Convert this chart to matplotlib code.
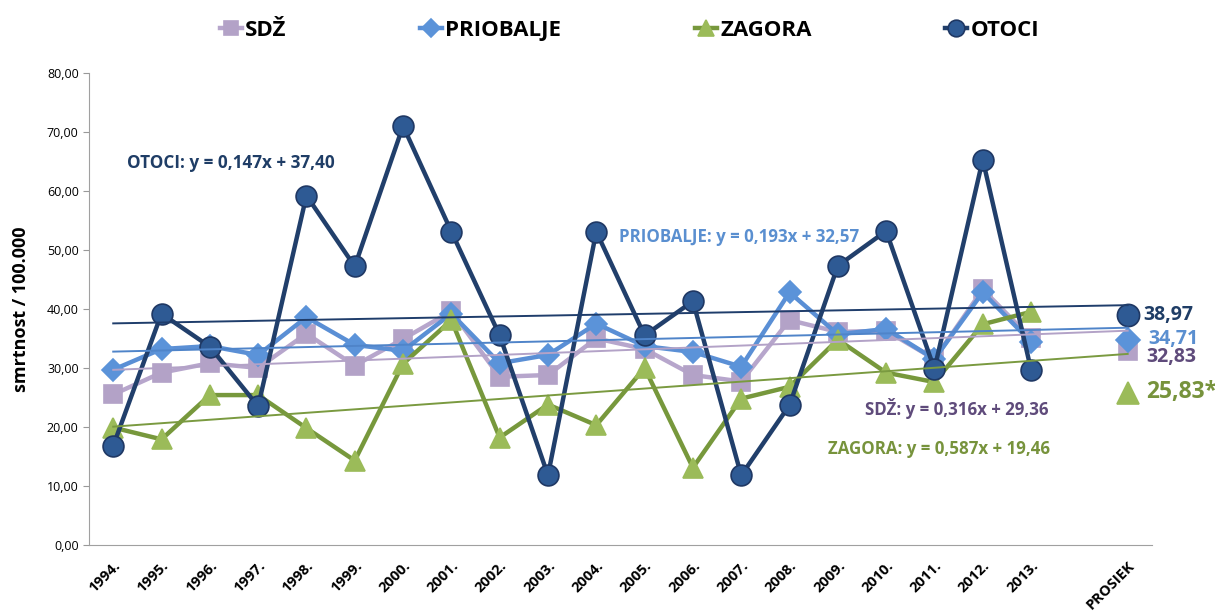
import numpy as np
import matplotlib
matplotlib.use("Agg")
import matplotlib.pyplot as plt

plt.rcParams['font.family'] = ['Open Sans', 'DejaVu Sans']

years = [f"{y}." for y in range(1994, 2014)]
categories = years + ["", "PROSIEK"]

sdz = [25.5, 29.2, 30.8, 30.0, 35.8, 30.4, 34.9, 39.6, 28.5, 28.8,
       35.0, 33.2, 28.8, 27.7, 38.1, 36.1, 36.3, 31.5, 43.3, 35.0]
priobalje = [29.7, 33.2, 33.7, 32.2, 38.6, 33.9, 32.9, 39.2, 30.8, 32.2,
             37.5, 33.7, 32.7, 30.2, 42.8, 35.7, 36.6, 31.5, 42.8, 34.4]
zagora = [19.9, 17.9, 25.4, 25.4, 19.8, 14.3, 30.7, 38.1, 18.2, 23.8,
          20.3, 30.0, 13.1, 24.8, 26.8, 34.8, 29.2, 27.6, 37.4, 39.5]
otoci = [16.8, 39.2, 33.6, 23.5, 59.2, 47.2, 71.0, 53.1, 35.5, 11.8,
         53.1, 35.5, 41.3, 11.8, 23.7, 47.3, 53.2, 29.8, 65.3, 29.7]

averages = {"SDŽ": 32.83, "PRIOBALJE": 34.71, "ZAGORA": 25.83, "OTOCI": 38.97}
avg_labels = {"SDŽ": "32,83", "PRIOBALJE": "34,71", "ZAGORA": "25,83*", "OTOCI": "38,97"}
trend = {"SDŽ": (0.316, 29.36), "PRIOBALJE": (0.193, 32.57),
         "ZAGORA": (0.587, 19.46), "OTOCI": (0.147, 37.40)}
eq_text = {"OTOCI": "OTOCI: y = 0,147x + 37,40",
           "PRIOBALJE": "PRIOBALJE: y = 0,193x + 32,57",
           "SDŽ": "SDŽ: y = 0,316x + 29,36",
           "ZAGORA": "ZAGORA: y = 0,587x + 19,46"}
yticks = [0, 10, 20, 30, 40, 50, 60, 70, 80]
ytick_labels = ["0,00", "10,00", "20,00", "30,00", "40,00", "50,00", "60,00", "70,00", "80,00"]

series = {"SDŽ": sdz, "PRIOBALJE": priobalje, "ZAGORA": zagora, "OTOCI": otoci}
style = {
    "SDŽ": dict(line="#B7A6CC", face="#B3A2C7", edge="#B3A2C7", marker="s", ms=12.5, trend="#B3A2C7", text="#5F4B7B"),
    "PRIOBALJE": dict(line="#5A8FD5", face="#5B93D9", edge="#5B93D9", marker="D", ms=11.5, trend="#4F84C9", text="#5A8FD0"),
    "ZAGORA": dict(line="#77983C", face="#9BBB59", edge="#9BBB59", marker="^", ms=14.5, trend="#7A9A40", text="#77933C"),
    "OTOCI": dict(line="#213F6B", face="#2E5A94", edge="#1F3864", marker="o", ms=15, trend="#1F3D6B", text="#1F3D66"),
}

fig = plt.figure(figsize=(12.15, 6.12), dpi=100)
ax = fig.add_axes([0.0733, 0.1095, 0.8747, 0.7715])

x_years = np.arange(len(years))
x_avg = len(categories) - 1
handles = []
for name in ["SDŽ", "PRIOBALJE", "ZAGORA", "OTOCI"]:
    st = style[name]
    h, = ax.plot(x_years, series[name], color=st["line"], lw=3.2, marker=st["marker"],
                 ms=st["ms"], mfc=st["face"], mec=st["edge"], mew=1.2, zorder=3, label=name)
    handles.append(h)
    ax.plot([x_avg], [averages[name]], marker=st["marker"], ms=st["ms"] + 1,
            mfc=st["face"], mec=st["edge"], mew=1.2, ls="none", zorder=3)
    a, b = trend[name]
    xt = np.arange(len(categories))
    ax.plot(xt, b + a * (xt + 1), color=st["trend"], lw=1.4, zorder=4)

# average labels
ax.text(21.33, 38.97, avg_labels["OTOCI"], color=style["OTOCI"]["text"], fontsize=14,
        fontweight="bold", va="center", ha="left")
ax.text(21.43, 34.9, avg_labels["PRIOBALJE"], color=style["PRIOBALJE"]["text"], fontsize=14,
        fontweight="bold", va="center", ha="left")
ax.text(21.38, 31.8, avg_labels["SDŽ"], color=style["SDŽ"]["text"], fontsize=14,
        fontweight="bold", va="center", ha="left")
ax.text(21.38, 25.9, avg_labels["ZAGORA"], color=style["ZAGORA"]["text"], fontsize=16.5,
        fontweight="bold", va="center", ha="left")

# trend equations
ax.text(0.29, 64.7, eq_text["OTOCI"], color=style["OTOCI"]["text"], fontsize=12.3,
        fontweight="bold", va="center")
ax.text(10.48, 52.2, eq_text["PRIOBALJE"], color=style["PRIOBALJE"]["text"], fontsize=12.2,
        fontweight="bold", va="center")
ax.text(15.56, 23.2, eq_text["SDŽ"], color=style["SDŽ"]["text"], fontsize=12.2,
        fontweight="bold", va="center")
ax.text(14.8, 16.3, eq_text["ZAGORA"], color=style["ZAGORA"]["text"], fontsize=12.2,
        fontweight="bold", va="center")

ax.set_xlim(-0.5, len(categories) - 0.5)
ax.set_ylim(0, 80)
ax.set_yticks(yticks)
ax.set_yticklabels(ytick_labels, fontsize=9)
ax.set_xticks(np.arange(len(categories)))
ax.set_xticklabels(categories, rotation=45, ha="right", rotation_mode="anchor",
                   fontsize=10.5, fontweight="bold")
ax.tick_params(axis="x", length=0, pad=10)
ax.tick_params(axis="y", length=4, color="#999999", direction="out")
for s in ["top", "right"]:
    ax.spines[s].set_visible(False)
for s in ["left", "bottom"]:
    ax.spines[s].set_color("#A0A0A0")
ax.set_ylabel("smrtnost / 100.000", fontsize=13, fontweight="bold", labelpad=12)

fig.legend(handles=handles, loc="upper center", bbox_to_anchor=(0.518, 1.0), ncol=4,
           frameon=False, prop={"weight": "bold", "size": 16},
           columnspacing=6.0, handlelength=1.0, handletextpad=0.15, markerscale=0.8)

fig.savefig("out.png", dpi=100)
